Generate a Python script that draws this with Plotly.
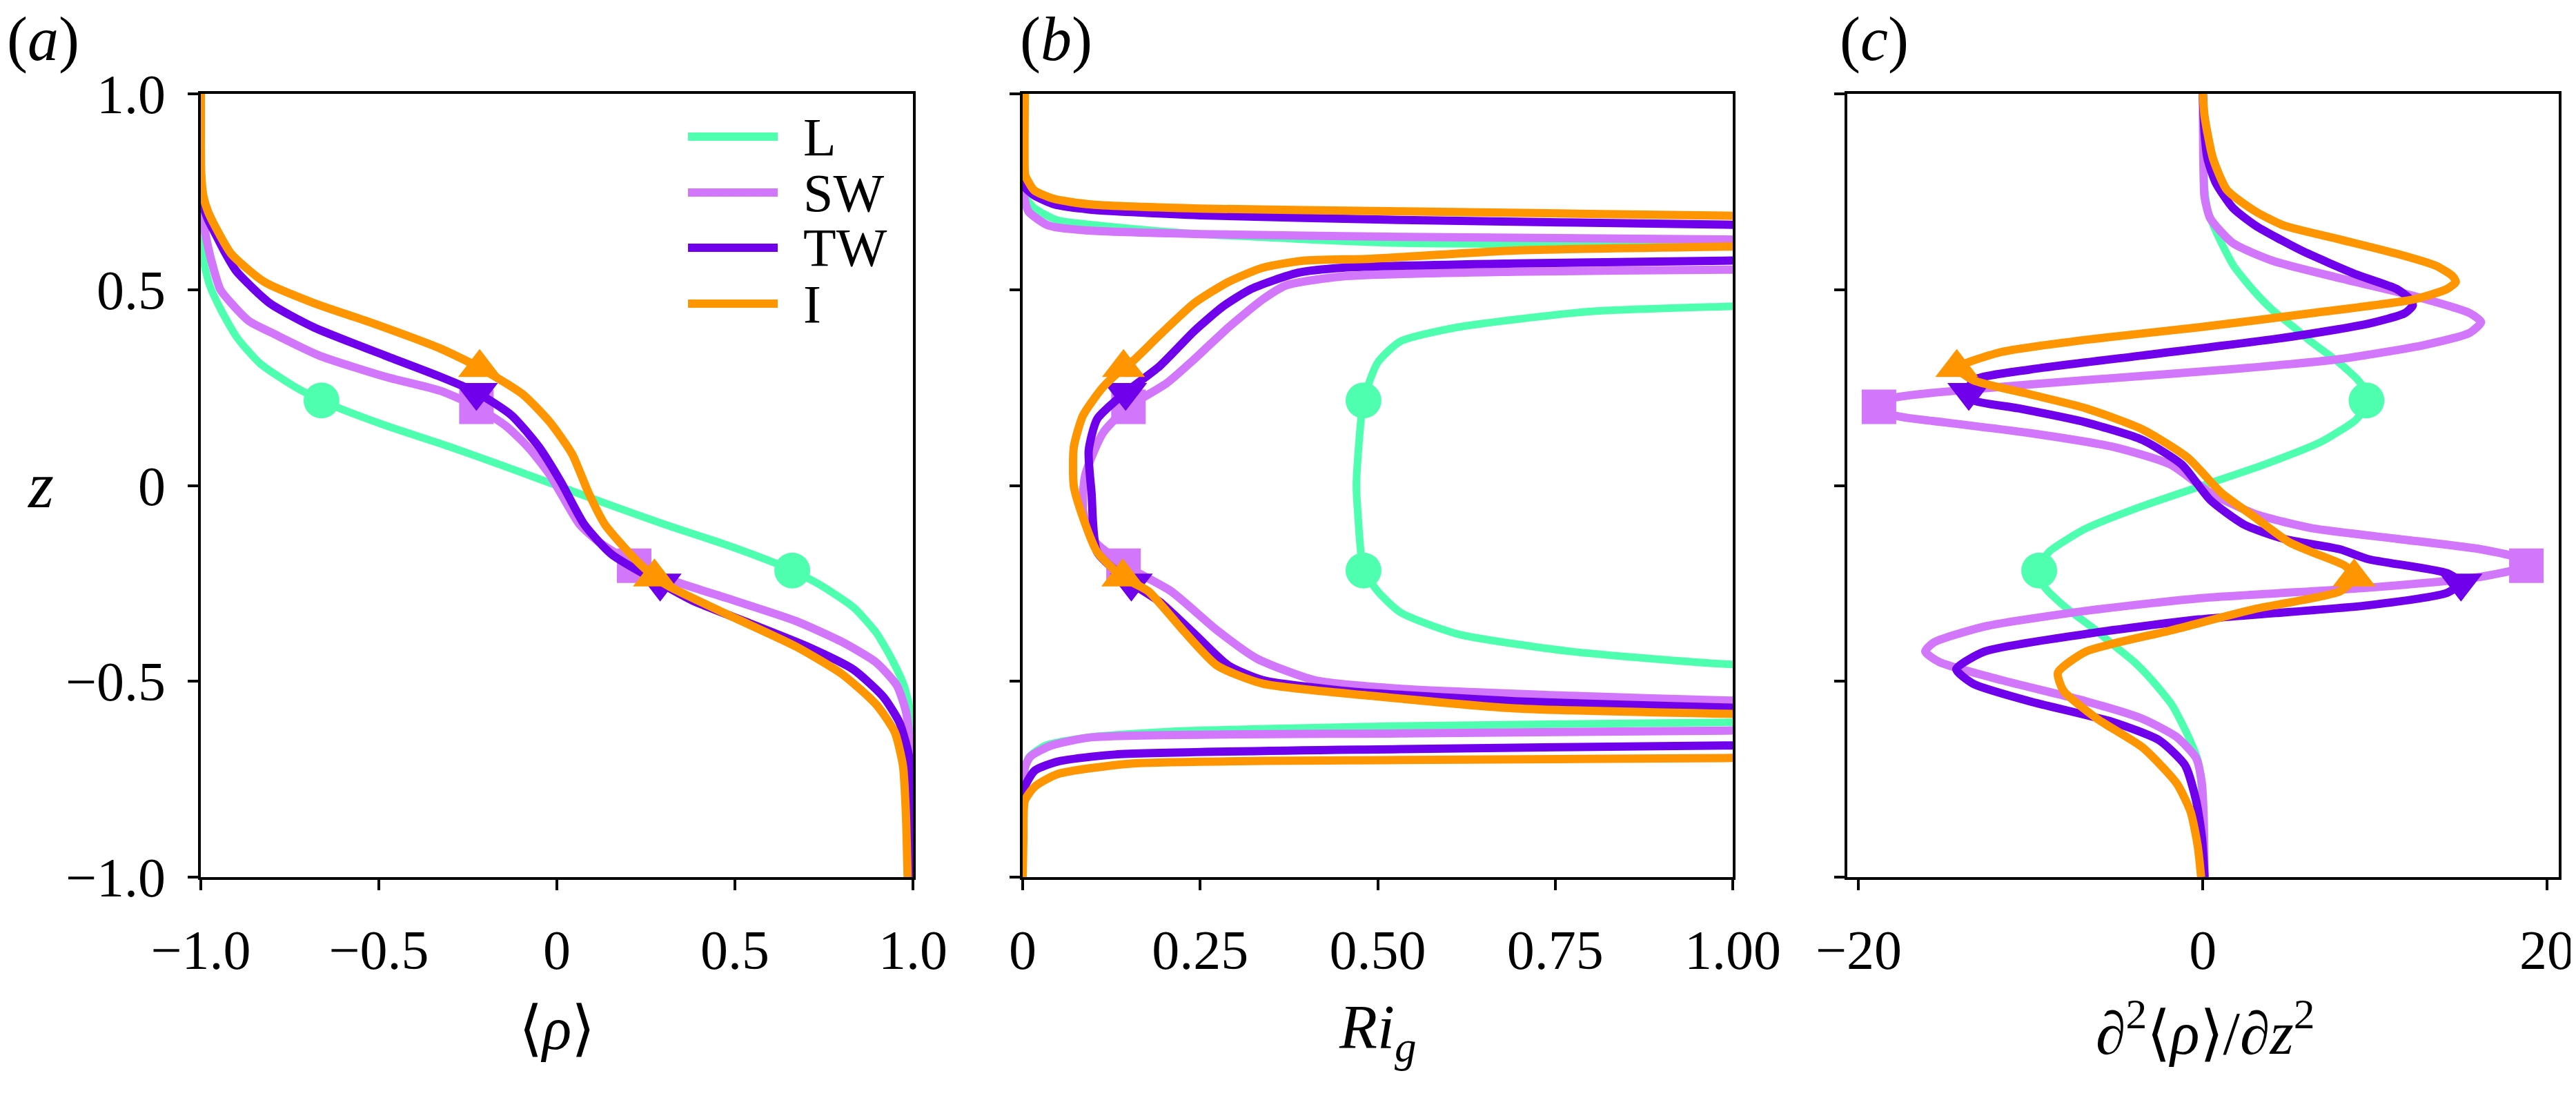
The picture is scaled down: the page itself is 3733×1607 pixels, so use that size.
import plotly.graph_objects as go

# ---- panel (a): mean density profiles <rho>(z)
Z_A_L = [1.0, 0.8, 0.65, 0.569, 0.511, 0.446, 0.376, 0.311, 0.252, 0.217, 0.196, 0.152, 0.0996, 0.05, 0.0,
         -0.05, -0.0996, -0.152, -0.196, -0.217, -0.252, -0.311, -0.376, -0.446, -0.511, -0.569, -0.65, -0.8, -1.0]
RHO_L = [-1.0, -1.0, -0.998, -0.991, -0.975, -0.942, -0.897, -0.833, -0.736, -0.661, -0.607, -0.477, -0.303, -0.15, 0.0,
         0.15, 0.303, 0.477, 0.607, 0.661, 0.736, 0.833, 0.897, 0.942, 0.975, 0.991, 0.998, 1.0, 1.0]

Z_A_SW = [1.0, 0.8, 0.72, 0.66, 0.611, 0.556, 0.5, 0.466, 0.42, 0.386, 0.332, 0.278, 0.242, 0.201, 0.152, 0.098, 0.026,
          -0.05, -0.0996, -0.147, -0.2005, -0.2405, -0.2875, -0.346, -0.399, -0.452, -0.511, -0.58, -0.658, -0.746, -0.85, -1.0]
RHO_SW = [-1.0, -1.0, -0.998, -0.99, -0.98, -0.965, -0.945, -0.915, -0.865, -0.792, -0.668, -0.483, -0.328, -0.226, -0.143, -0.081, -0.019,
          0.03, 0.064, 0.122, 0.217, 0.316, 0.477, 0.671, 0.8, 0.897, 0.955, 0.981, 0.991, 0.996, 1.0, 1.0]

Z_A_TW = [1.0, 0.8, 0.72, 0.68, 0.646, 0.6, 0.547, 0.466, 0.404, 0.332, 0.278, 0.238, 0.179, 0.098, 0.008,
          -0.0996, -0.176, -0.249, -0.2934, -0.352, -0.411, -0.47, -0.54, -0.605, -0.687, -0.746, -0.85, -1.0]
RHO_TW = [-1.0, -1.0, -0.995, -0.98, -0.961, -0.935, -0.9, -0.807, -0.683, -0.483, -0.328, -0.226, -0.127, -0.05, 0.012,
          0.077, 0.154, 0.29, 0.38, 0.542, 0.703, 0.833, 0.917, 0.962, 0.988, 0.994, 1.0, 1.0]

Z_A_I = [1.0, 0.8, 0.74, 0.7, 0.664, 0.592, 0.52, 0.466, 0.413, 0.35, 0.301, 0.233, 0.161, 0.08, -0.019,
         -0.0996, -0.1877, -0.234, -0.258, -0.3286, -0.411, -0.481, -0.5595, -0.63, -0.716, -0.834, -1.0]
RHO_I = [-1.0, -0.999, -0.993, -0.98, -0.961, -0.915, -0.822, -0.683, -0.513, -0.328, -0.217, -0.096, -0.019, 0.043, 0.089,
         0.135, 0.219, 0.274, 0.316, 0.477, 0.671, 0.8, 0.897, 0.949, 0.972, 0.98, 0.985]

# ---- panel (b): gradient Richardson number (None = curve leaves through Ri -> inf)
Z_B_L = [1.0, 0.8, 0.76, 0.736, 0.709, 0.678, 0.66, 0.642, 0.619, 0.615, 0.612, None,
         0.462, 0.457, 0.444, 0.404, 0.368, 0.314, 0.217, 0.071, 0.0, -0.071, -0.215, -0.27, -0.324, -0.379, -0.424, -0.456, -0.461, None,
         -0.602, -0.605, -0.614, -0.628, -0.642, -0.664, -0.696, -0.76, -0.85, -1.0]
RI_L = [0.0, 0.0, 0.001, 0.004, 0.016, 0.048, 0.129, 0.25, 0.532, 0.989, 1.1, None,
        1.1, 0.989, 0.797, 0.612, 0.532, 0.5, 0.48, 0.472, 0.47, 0.472, 0.48, 0.5, 0.532, 0.612, 0.773, 0.989, 1.1, None,
        1.1, 0.989, 0.532, 0.209, 0.097, 0.032, 0.008, 0.001, 0.0, 0.0]

Z_B_SW = [1.0, 0.8, 0.74, 0.7, 0.664, 0.651, 0.642, 0.635, 0.628, 0.625, None,
          0.554, 0.551, 0.546, 0.534, 0.511, 0.475, 0.404, 0.323, 0.26, 0.201, 0.134, 0.026, -0.064, -0.14, -0.205,
          -0.27, -0.37, -0.442, -0.497, -0.519, -0.537, -0.549, -0.552, None,
          -0.623, -0.626, -0.633, -0.643, -0.664, -0.692, -0.72, -0.8, -1.0]
RI_SW = [0.0, 0.0, 0.002, 0.008, 0.036, 0.093, 0.25, 0.532, 0.989, 1.1, None,
         1.1, 0.989, 0.693, 0.451, 0.371, 0.338, 0.29, 0.242, 0.202, 0.149, 0.113, 0.088, 0.085, 0.1, 0.145,
         0.209, 0.274, 0.33, 0.411, 0.532, 0.773, 0.989, 1.1, None,
         1.1, 0.989, 0.532, 0.097, 0.04, 0.011, 0.003, 0.0, 0.0]

Z_B_TW = [1.0, 0.8, 0.78, 0.76, 0.741, 0.718, 0.705, 0.69, 0.678, 0.666, 0.663, None,
          0.577, 0.574, 0.567, 0.556, 0.543, 0.502, 0.457, 0.395, 0.305, 0.238, 0.17, 0.089, -0.019, -0.17, -0.249,
          -0.297, -0.379, -0.46, -0.497, -0.524, -0.551, -0.567, -0.57, None,
          -0.661, -0.664, -0.673, -0.687, -0.705, -0.728, -0.77, -0.85, -1.0]
RI_TW = [0.0, 0.0, 0.001, 0.004, 0.016, 0.044, 0.093, 0.25, 0.532, 0.989, 1.1, None,
         1.1, 0.989, 0.693, 0.451, 0.387, 0.322, 0.282, 0.242, 0.193, 0.145, 0.105, 0.093, 0.097, 0.105, 0.153,
         0.193, 0.242, 0.29, 0.338, 0.451, 0.693, 0.989, 1.1, None,
         1.1, 0.989, 0.532, 0.13, 0.049, 0.017, 0.003, 0.0, 0.0]

Z_B_I = [1.0, 0.8, 0.79, 0.754, 0.732, 0.718, 0.707, 0.7, 0.689, 0.686, None,
         0.613, 0.61, 0.6, 0.579, 0.574, 0.556, 0.52, 0.466, 0.386, 0.314, 0.301, 0.251, 0.179, 0.098, -0.001,
         -0.082, -0.17, -0.234, -0.27, -0.37, -0.46, -0.506, -0.537, -0.569, -0.583, -0.586, None,
         -0.693, -0.696, -0.701, -0.71, -0.737, -0.769, -0.805, -0.9, -1.0]
RI_I = [0.003, 0.003, 0.004, 0.016, 0.044, 0.093, 0.25, 0.532, 0.989, 1.1, None,
        1.1, 0.989, 0.693, 0.491, 0.395, 0.338, 0.29, 0.242, 0.194, 0.153, 0.142, 0.113, 0.085, 0.072, 0.072,
        0.085, 0.105, 0.141, 0.177, 0.226, 0.274, 0.338, 0.491, 0.693, 0.989, 1.1, None,
        1.1, 0.989, 0.532, 0.153, 0.049, 0.017, 0.003, 0.001, 0.0]

# ---- panel (c): curvature of the density profile
Z_C_L = [1.0, 0.85, 0.75, 0.7, 0.65, 0.6, 0.56, 0.5, 0.45, 0.4, 0.37, 0.314, 0.27, 0.245, 0.217, 0.19, 0.166, 0.112, 0.054, 0.0,
         -0.054, -0.112, -0.166, -0.19, -0.217, -0.245, -0.27, -0.314, -0.37, -0.4, -0.45, -0.5, -0.56, -0.6, -0.65, -0.7, -0.75, -0.85, -1.0]
D2_L = [0.0, 0.02, 0.12, 0.3, 0.75, 1.3, 1.8, 2.9, 4.0, 5.4, 6.2, 7.9, 9.0, 9.4, 9.51, 9.3, 8.85, 6.9, 3.6, 0.0,
        -3.6, -6.9, -8.85, -9.3, -9.51, -9.4, -9.0, -7.9, -6.2, -5.4, -4.0, -2.9, -1.8, -1.3, -0.75, -0.3, -0.12, -0.02, 0.0]

Z_C_SW = [1.0, 0.85, 0.78, 0.736, 0.682, 0.619, 0.574, 0.529, 0.484, 0.44, 0.417, 0.39, 0.359, 0.323, 0.296, 0.269, 0.246,
          0.224, 0.203, 0.179, 0.161, 0.134, 0.098, 0.053, -0.019, -0.073, -0.109, -0.136, -0.163, -0.185, -0.205, -0.233,
          -0.261, -0.288, -0.32, -0.36, -0.401, -0.424, -0.451, -0.497, -0.551, -0.596, -0.642, -0.696, -0.76, -0.85, -1.0]
D2_SW = [0.0, 0.02, 0.05, 0.1, 0.43, 1.74, 4.04, 7.98, 12.24, 15.51, 16.17, 15.51, 12.89, 7.98, 1.41, -6.79, -13.35,
         -17.93, -18.82, -17.93, -14.98, -10.06, -5.15, -1.86, 0.43, 3.05, 6.33, 11.25, 16.17, 18.3, 18.8, 16.17,
         9.61, -0.22, -6.79, -12.69, -15.64, -16.13, -15.31, -11.7, -6.79, -3.5, -1.53, -0.39, -0.06, 0.05, 0.1]

Z_C_TW = [1.0, 0.9, 0.835, 0.772, 0.709, 0.664, 0.601, 0.538, 0.502, 0.475, 0.46, 0.44, 0.413, 0.377, 0.332, 0.296, 0.269,
          0.238, 0.218, 0.197, 0.161, 0.116, 0.053, -0.037, -0.1, -0.136, -0.163, -0.188, -0.224, -0.249, -0.274, -0.306,
          -0.342, -0.379, -0.424, -0.469, -0.506, -0.551, -0.605, -0.651, -0.714, -0.805, -0.9, -1.0]
D2_TW = [0.0, 0.1, 0.27, 0.76, 1.74, 3.05, 5.68, 8.96, 11.25, 12.06, 12.2, 11.74, 9.61, 4.69, -3.5, -10.06, -13.35,
         -13.6, -13.35, -10.72, -6.79, -3.5, -1.21, 0.43, 2.4, 4.69, 7.98, 9.61, 14.2, 15.0, 14.2, 9.61,
         -0.22, -6.79, -12.69, -14.33, -13.35, -10.06, -5.15, -2.52, -1.04, -0.39, -0.05, 0.1]

Z_C_I = [1.0, 0.943, 0.835, 0.754, 0.7, 0.664, 0.628, 0.592, 0.561, 0.535, 0.52, 0.502, 0.475, 0.44, 0.404, 0.372, 0.341,
         0.314, 0.301, 0.269, 0.233, 0.197, 0.143, 0.071, -0.019, -0.082, -0.145, -0.17, -0.206, -0.234, -0.27, -0.315,
         -0.37, -0.424, -0.478, -0.524, -0.596, -0.669, -0.76, -0.832, -0.92, -1.0]
D2_I = [0.0, 0.1, 0.59, 1.41, 3.05, 4.69, 7.98, 11.25, 13.55, 14.5, 14.7, 14.2, 12.24, 6.33, -0.22, -6.79, -11.7,
        -13.67, -14.3, -13.35, -10.06, -6.79, -3.5, -0.88, 1.08, 3.05, 5.02, 6.33, 8.3, 8.79, 7.98, 3.05,
        -1.86, -6.79, -8.42, -8.1, -6.13, -3.5, -1.53, -0.72, -0.3, -0.1]

# ---- marker positions (two per curve)
MARK_Z_L = [0.217, -0.217]
MARK_RHO_L = [-0.661, 0.661]
MARK_RI_L = [0.48, 0.48]
MARK_D2_L = [9.51, -9.51]
MARK_Z_SW = [0.201, -0.205]
MARK_RHO_SW = [-0.226, 0.217]
MARK_RI_SW = [0.149, 0.142]
MARK_D2_SW = [-18.82, 18.8]
MARK_Z_TW = [0.238, -0.249]
MARK_RHO_TW = [-0.226, 0.29]
MARK_RI_TW = [0.145, 0.153]
MARK_D2_TW = [-13.6, 15.0]
MARK_Z_I = [0.301, -0.234]
MARK_RHO_I = [-0.217, 0.274]
MARK_RI_I = [0.142, 0.141]
MARK_D2_I = [-14.3, 8.79]

NAMES = ["L", "SW", "TW", "I"]
COLORS = ["#4fffb0", "#d277fc", "#7000eb", "#ff9500"]
SYMBOLS = ["circle", "square", "triangle-down", "triangle-up"]
WIDTHS = [11, 12, 12, 12]
SIZES = [52, 50, 54, 54]

Z_TICKS = [-1.0, -0.5, 0.0, 0.5, 1.0]
Z_TICKTEXT = ["\u22121.0", "\u22120.5", "0", "0.5", "1.0"]
RHO_TICKS = [-1.0, -0.5, 0.0, 0.5, 1.0]
RHO_TICKTEXT = ["\u22121.0", "\u22120.5", "0", "0.5", "1.0"]
RI_TICKS = [0.0, 0.25, 0.5, 0.75, 1.0]
RI_TICKTEXT = ["0", "0.25", "0.50", "0.75", "1.00"]
D2_TICKS = [-20, 0, 20]
D2_TICKTEXT = ["\u221220", "0", "20"]

FONT = "Liberation Serif"
W, H = 3733, 1607
PAGE_PAD = 8  # the page body margin shifts the figure by this much


def px(x):
    """page pixel column -> paper fraction"""
    return (x - PAGE_PAD) / W


def py(y):
    """page pixel row -> paper fraction"""
    return 1 - (y - PAGE_PAD) / H


X_DOMAINS = [(px(291), px(1323)), (px(1482), px(2511)), (px(2677), px(3708))]
Y_DOMAIN = (py(1271), py(136))

panels = [
    ([Z_A_L, Z_A_SW, Z_A_TW, Z_A_I], [RHO_L, RHO_SW, RHO_TW, RHO_I],
     [MARK_RHO_L, MARK_RHO_SW, MARK_RHO_TW, MARK_RHO_I], [-1.0, 1.0], RHO_TICKS, RHO_TICKTEXT),
    ([Z_B_L, Z_B_SW, Z_B_TW, Z_B_I], [RI_L, RI_SW, RI_TW, RI_I],
     [MARK_RI_L, MARK_RI_SW, MARK_RI_TW, MARK_RI_I], [0.0, 1.0], RI_TICKS, RI_TICKTEXT),
    ([Z_C_L, Z_C_SW, Z_C_TW, Z_C_I], [D2_L, D2_SW, D2_TW, D2_I],
     [MARK_D2_L, MARK_D2_SW, MARK_D2_TW, MARK_D2_I], [-20.66, 20.68], D2_TICKS, D2_TICKTEXT),
]
MARK_Z = [MARK_Z_L, MARK_Z_SW, MARK_Z_TW, MARK_Z_I]

fig = go.Figure()

for p, (zs, vals, marks, xrange_, xticks, xtext) in enumerate(panels):
    xa = "x" if p == 0 else f"x{p + 1}"
    ya = "y" if p == 0 else f"y{p + 1}"
    for k in range(4):
        fig.add_trace(go.Scatter(
            x=vals[k], y=zs[k], mode="lines", xaxis=xa, yaxis=ya,
            line=dict(color=COLORS[k], width=WIDTHS[k], shape="spline", smoothing=0.6),
            connectgaps=False, showlegend=False, name=NAMES[k],
        ))
        fig.add_trace(go.Scatter(
            x=marks[k], y=MARK_Z[k], mode="markers", xaxis=xa, yaxis=ya,
            marker=dict(color=COLORS[k], symbol=SYMBOLS[k], size=SIZES[k], line=dict(width=0)),
            showlegend=False, name=NAMES[k],
        ))

    axis_common = dict(
        showline=True, linecolor="black", linewidth=4, mirror=True,
        ticks="outside", ticklen=15, tickwidth=4, tickcolor="black",
        showgrid=False, zeroline=False,
        tickfont=dict(family=FONT, size=80, color="black"),
    )
    key = "" if p == 0 else str(p + 1)
    fig.update_layout({
        f"xaxis{key}": dict(axis_common, domain=list(X_DOMAINS[p]), anchor=ya, range=xrange_,
                            tickmode="array", tickvals=xticks, ticktext=xtext, ticklabelstandoff=18),
        f"yaxis{key}": dict(axis_common, domain=list(Y_DOMAIN), anchor=xa, range=[-1.0, 1.0],
                            tickmode="array", tickvals=Z_TICKS, ticktext=Z_TICKTEXT,
                            showticklabels=(p == 0), ticklabelstandoff=16),
    })

# hand-drawn legend inside panel (a)
LEG_Y = [198, 279, 359, 440]
shapes = []
annotations = []
for k in range(4):
    shapes.append(dict(type="line", xref="paper", yref="paper", x0=px(997), x1=px(1127),
                       y0=py(LEG_Y[k]), y1=py(LEG_Y[k]), line=dict(color=COLORS[k], width=12)))
    annotations.append(dict(text=NAMES[k], xref="paper", yref="paper", x=px(1162), y=py(LEG_Y[k]),
                            xanchor="left", yanchor="middle", showarrow=False,
                            font=dict(family=FONT, size=78, color="black")))

# panel letters: (a) sits against the left edge, so anchor it there
annotations.append(dict(text="(<i>a</i>)", xref="paper", yref="paper", x=0.0, y=py(57),
                        xanchor="left", yanchor="middle", showarrow=False,
                        font=dict(family=FONT, size=90, color="black")))

labels = [
    ("(<i>b</i>)", 1530, 57, 90),
    ("(<i>c</i>)", 2716, 57, 90),
    ("<i>z</i>", 58, 703, 95),
    ("\u27e8<i>\u03c1</i>\u27e9", 807, 1490, 88),
    ("<i>Ri</i><sub><i>g</i></sub>", 1996, 1495, 90),
    ("\u2202<sup>2</sup>\u27e8<i>\u03c1</i>\u27e9/\u2202<i>z</i><sup>2</sup>", 3196, 1490, 88),
]
for text, x, y, size in labels:
    annotations.append(dict(text=text, xref="paper", yref="paper", x=px(x), y=py(y),
                            xanchor="center", yanchor="middle", showarrow=False,
                            font=dict(family=FONT, size=size, color="black")))

fig.update_layout(
    width=W, height=H,
    margin=dict(l=0, r=0, t=0, b=0, autoexpand=False),
    paper_bgcolor="white", plot_bgcolor="white",
    font=dict(family=FONT),
    shapes=shapes, annotations=annotations,
    showlegend=False,
)

fig.write_html("out.html")
